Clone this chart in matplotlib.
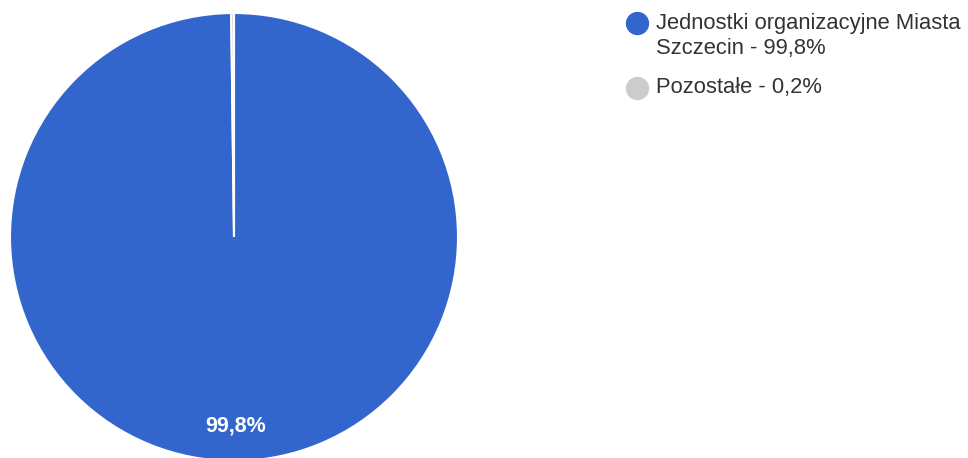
import matplotlib.pyplot as plt

plt.rcParams['font.family'] = ['Liberation Sans', 'DejaVu Sans']

labels = ["Jednostki organizacyjne Miasta\nSzczecin - 99,8%", "Pozostałe - 0,2%"]
values = [99.8, 0.2]
colors = ["#3366CC", "#CCCCCC"]

W, H = 968, 458
fig = plt.figure(figsize=(W / 100, H / 100), dpi=100)
# pie axes: center around (234, 237) px, radius ~224 px
ax = fig.add_axes([10 / W, (H - 461) / H, 448 / W, 448 / H])

wedges, texts, autotexts = ax.pie(
    values, colors=colors, startangle=90, counterclock=False,
    autopct=lambda p: f"{p:.1f}%".replace(".", ",") if p > 1 else "",
    pctdistance=0.845, radius=1,
    wedgeprops=dict(edgecolor="white", linewidth=1.5),
    textprops=dict(color="white", fontsize=15.5, fontweight="bold"),
)
ax.set_xlim(-1, 1)
ax.set_ylim(-1, 1)
ax.set_aspect("equal")
ax.axis("off")

# legend drawn on an overlay axes in pixel coordinates
lax = fig.add_axes([0, 0, 1, 1])
lax.set_xlim(0, W)
lax.set_ylim(H, 0)
lax.axis("off")
marker_y = [23, 88]
text_y = [36, 88]
for c, lab, my, ty in zip(colors, labels, marker_y, text_y):
    lax.plot(637, my, marker="o", markersize=15.8, color=c, linestyle="")
    lax.text(656, ty, lab, va="center", ha="left", fontsize=15.8,
             color="#333333", linespacing=1.3)

fig.savefig("out.png", dpi=100)
